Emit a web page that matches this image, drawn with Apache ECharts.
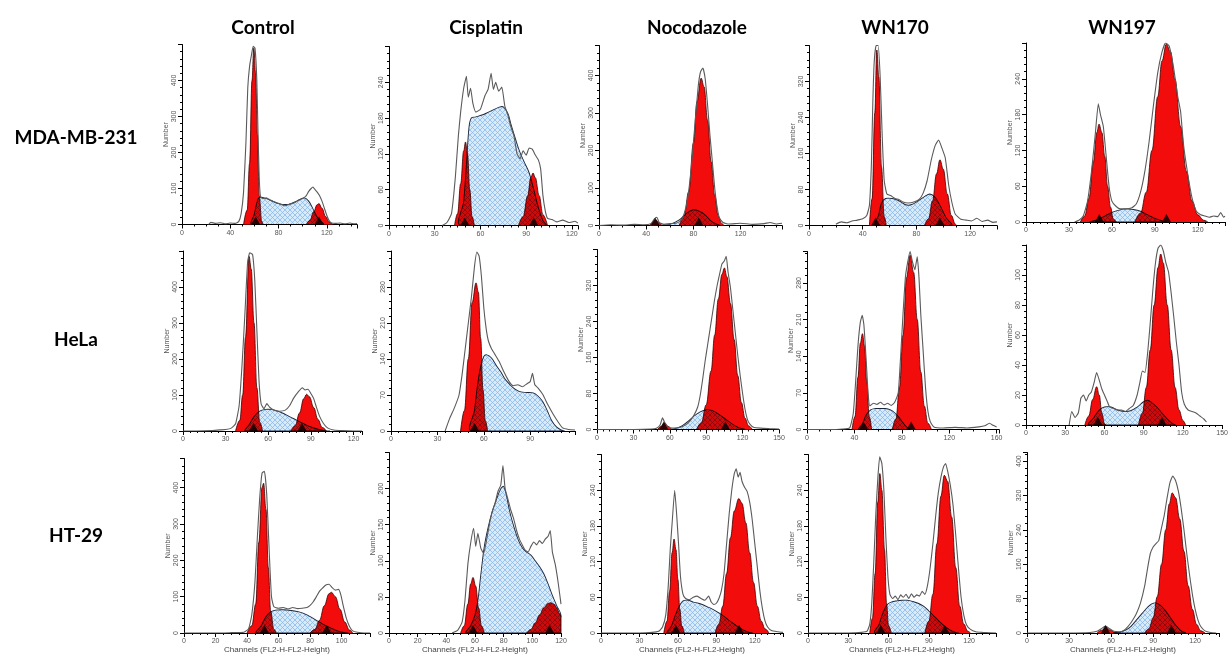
<!DOCTYPE html>
<html>
<head>
<meta charset="utf-8">
<script src="https://cdn.jsdelivr.net/npm/echarts@6/dist/echarts.min.js"></script>
<style>
  html, body { margin: 0; padding: 0; background: #fff; }
  #main { width: 1231px; height: 655px; }
</style>
</head>
<body>
<div id="main"></div>
<script>
// panels read row by row: MDA-MB-231, HeLa, HT-29 x Control, Cisplatin, Nocodazole, WN170, WN197
var columns = ['Control', 'Cisplatin', 'Nocodazole', 'WN170', 'WN197'];
var rows = ['MDA-MB-231', 'HeLa', 'HT-29'];

// axis ranges and tick steps
var xMax = [145, 124, 155, 140, 139, 126, 119, 150, 162, 150, 118, 120, 142, 140, 137];
var yMax = [500, 300, 480, 400, 300, 500, 350, 400, 340, 120, 480, 250, 300, 300, 420];
var xStep = [40, 30, 40, 40, 30, 30, 30, 30, 40, 30, 20, 20, 30, 30, 30];
var yStep = [100, 60, 100, 80, 60, 100, 70, 80, 70, 20, 100, 50, 60, 60, 80];

// G0/G1 peak (red)
var g1Peak = [
  [[51,0],[54,40],[56,170],[58,400],[59.5,490],[61,420],[62.5,250],[64,80],[66,10],[67,0]],
  [[43,0],[45,20],[47,70],[49,125],[50.2,140],[51.5,120],[53,60],[54.5,15],[56,0]],
  [[43,0],[45.5,8],[48,15],[50.5,8],[53,0]],
  [[45,0],[47,60],[49,250],[50.5,390],[52,330],[54,130],[56,20],[57.5,0]],
  [[38,0],[41,10],[44,40],[47,100],[49.5,150],[51,164],[53,150],[55,110],[57,60],[59,25],[61,5],[63,0]],
  [[37,0],[40,30],[42,100],[44,260],[46.5,485],[48,450],[50,300],[52,120],[54,25],[56,0]],
  [[45,0],[47.5,40],[50,140],[52.5,250],[55,288],[56.5,270],[58,180],[59.5,80],[61,20],[62.5,0]],
  [[50,0],[53,7],[55.8,15],[58.5,7],[61.5,0]],
  [[38,0],[40.5,25],[43,100],[45,165],[46.8,183],[48.5,160],[50.5,90],[52.5,25],[54.5,0]],
  [[45,0],[48,6],[51,17],[54,25.5],[56,20],[58,8],[60,1],[61,0]],
  [[40,0],[43,20],[45.5,80],[47.5,250],[49.5,400],[50.5,412],[52,340],[53.5,180],[55,60],[57,10],[58.5,0]],
  [[50,0],[52.5,10],[55,40],[57,68],[58.6,77],[60.5,65],[62.5,35],[64.5,10],[66.5,0]],
  [[49,0],[51.5,20],[53.5,70],[55.5,135],[57,158],[58.5,140],[60,90],[61.5,40],[63,12],[65,0]],
  [[46,0],[48,25],[50,100],[52,220],[53.5,268],[55,240],[57,140],[58.5,50],[60,12],[62,0]],
  [[50,0],[53,6],[56.4,13],[60,6],[63,1],[64.5,0]]
];

// G2/M peak (red)
var g2Peak = [
  [[103,0],[106,12],[109,35],[112,55],[113.5,58],[116,45],[119,22],[122,6],[125,0]],
  [[85,0],[88,15],[91,50],[93,80],[94.5,88],[96,80],[98.5,50],[101,18],[104,0]],
  [[68,0],[72,25],[76,90],[80,220],[83,330],[86.5,393],[89,370],[92,280],[95,170],[98,80],[101,25],[104,5],[106,0]],
  [[86,0],[89,15],[92,55],[95,115],[97.5,146],[100,125],[103,70],[106,22],[109,3],[110,0]],
  [[76,0],[80,15],[84,50],[88,120],[92,210],[95,270],[98,298],[101,285],[104,240],[108,160],[112,85],[116,35],[120,12],[124,3],[127,0]],
  [[76,0],[79,15],[82,50],[85,90],[87,102],[89,95],[92,65],[95,32],[98,10],[101,0]],
  [],
  [[82,0],[86,15],[90,55],[94,130],[97,210],[100,290],[103,345],[105,359],[107,340],[110,280],[113,200],[116,120],[119,60],[122,25],[125,8],[128,0]],
  [[72,0],[75,20],[78,80],[81,180],[84,290],[87,333],[90,300],[93,210],[96,110],[99,45],[102,12],[105,0]],
  [[86,0],[89,8],[92,25],[95,50],[98,80],[101,105],[103,114],[105,108],[108,80],[111,50],[114,25],[117,10],[120,3],[122,0]],
  [[80,0],[83,10],[86,35],[89,75],[92,108],[93.5,112],[96,100],[99,65],[102,30],[105,8],[107,0]],
  [[96,0],[99,5],[102,14],[105,25],[108,35],[111,41],[113,42],[115,40],[117,35],[119,27],[120,22]],
  [[89,0],[92,15],[95,45],[98,100],[101,160],[104,205],[107.5,226],[110,218],[113,185],[116,135],[119,85],[122,45],[125,20],[128,7],[131,0]],
  [[87,0],[90,20],[93,65],[96,150],[99,230],[101.5,265],[104,255],[107,195],[110,110],[113,45],[116,15],[119,3],[121,0]],
  [[84,0],[87,10],[90,35],[93,85],[96,160],[99,240],[101.5,300],[103.6,326],[106,315],[109,265],[112,190],[115,110],[118,55],[121,20],[124,5],[127,0]]
];

// S phase (hatched)
var sPhase = [
  [[58,0],[60,30],[62,60],[64,75],[70,72],[80,58],[88,56],[95,65],[101,74],[105,65],[109,40],[113,15],[117,0]],
  [[47,0],[49,40],[51,110],[52.5,165],[54,180],[57,182],[62,186],[67,192],[72,198],[75,199],[78,188],[80,170],[83,145],[86,122],[89,105],[92,88],[95,60],[98,30],[101,8],[103,0]],
  [[50,0],[60,3],[68,15],[74,32],[80,42],[85,38],[90,28],[95,12],[100,3],[103,0]],
  [[50,0],[52,25],[54,50],[57,60],[62,60],[67,55],[72,46],[76,46],[81,54],[86,64],[90,70],[94,62],[98,42],[102,18],[106,0]],
  [[45,0],[50,4],[55,10],[60,16],[65,20],[70,22],[75,21],[80,18],[85,12],[90,6],[95,2],[98,0]],
  [[44,0],[47,20],[50,40],[54,55],[58,60],[62,60],[66,56],[70,50],[74,42],[78,34],[82,26],[86,18],[90,11],[95,5],[100,1],[103,0]],
  [[52,0],[54,40],[56,90],[58,125],[60,145],[62,148],[65,142],[68,128],[71,115],[74,100],[77,90],[80,82],[84,76],[88,75],[92,74],[95,68],[98,58],[101,40],[104,20],[107,8],[110,2],[112,0]],
  [[62,0],[66,3],[70,8],[75,18],[80,30],[85,39],[90,44],[94,43],[98,38],[102,31],[106,23],[110,15],[114,8],[118,3],[122,0]],
  [[44,0],[47,12],[50,28],[54,38],[58,40],[62,40],[66,40],[70,38],[74,32],[78,22],[82,10],[85,3],[87,0]],
  [[48,0],[52,5],[56,10],[60,12],[65,12],[70,10],[75,9],[80,9.5],[85,12],[90,15.5],[93,16.5],[96,15],[100,12],[104,8],[108,4],[112,1],[114,0]],
  [[46,0],[49,20],[52,45],[55,58],[58,63],[63,64],[68,62],[73,58],[78,50],[82,40],[86,30],[90,20],[94,12],[98,5],[102,1],[104,0]],
  [[54,0],[57,10],[60,25],[62,45],[64,80],[66.5,120],[69,145],[72,168],[75,185],[78,200],[80,203],[82,190],[84,170],[87,148],[90,130],[93,118],[96,112],[99,108],[102,100],[105,92],[108,82],[111,68],[114,52],[117,38],[120,25],[120,0]],
  [[52,0],[55,12],[58,30],[61,45],[64,54],[68,55],[72,52],[76,50],[80,47],[84,43],[88,39],[92,34],[96,28],[100,21],[104,15],[108,9],[112,4],[116,1],[118,0]],
  [[50,0],[53,15],[56,35],[59,48],[62,52],[66,54],[70,55],[74,55],[78,53],[82,50],[86,45],[90,37],[94,28],[98,19],[102,11],[106,5],[110,1],[112,0]],
  [[62,0],[66,2],[70,6],[74,15],[78,30],[82,45],[86,60],[89,68],[92,70],[95,65],[98,55],[101,42],[104,28],[107,15],[110,5],[113,0]]
];

// measured histogram (grey line)
var rawHist = [
  [[22,0],[24,6],[28,3],[32,5],[36,2],[40,4],[44,3],[47,8],[49,30],[51,90],[53,230],[54.5,380],[56,440],[57.5,470],[59,495],[60.5,490],[62,400],[63,250],[64,130],[65,78],[67,72],[70,74],[73,68],[76,64],[79,60],[82,56],[85,52],[88,55],[91,58],[94,62],[97,68],[100,72],[103,80],[105,92],[107,100],[108.5,104],[110,98],[112,90],[114,80],[116,65],[118,45],[120,25],[122,10],[124,4],[127,3],[131,4],[135,2],[139,4],[143,2],[145,3]],
  [[35,0],[38,5],[41,20],[43.5,80],[45.5,150],[47,190],[49,230],[50.8,250],[52,215],[53.5,230],[55,205],[57,190],[60,195],[63,218],[65,228],[67,255],[68.5,228],[70,240],[72,225],[74,232],[76,200],[78,185],[80,165],[82,150],[84,120],[86,112],[88,125],[90,118],[92,130],[94,128],[96,118],[98,110],[99.5,95],[101,50],[102.5,25],[104,12],[107,10],[110,6],[114,9],[118,5],[122,7],[124,4]],
  [[0,0],[10,2],[20,1],[30,3],[38,2],[44,5],[47,18],[49,22],[51,8],[55,3],[60,5],[65,6],[69,12],[72,30],[75,70],[78,150],[81,260],[84,370],[86,410],[88,420],[90,390],[92,320],[94,240],[96,170],[98,100],[100,50],[102,20],[105,8],[110,4],[120,6],[130,3],[140,5],[145,8],[150,4],[155,6]],
  [[20,3],[24,8],[28,6],[32,10],[36,12],[40,15],[43,22],[45,45],[46.5,140],[47.5,270],[48.5,360],[50,400],[51.5,400],[53,330],[54.5,200],[56,100],[58,70],[61,66],[64,60],[67,58],[70,52],[74,50],[78,52],[82,58],[85,72],[88,100],[91,145],[94,178],[96.5,190],[99,172],[101.5,150],[104,90],[106.5,50],[109,25],[113,14],[117,12],[121,10],[125,16],[129,9],[133,12],[137,7],[140,8]],
  [[34,0],[37,3],[40,10],[43,35],[46,90],[48.5,150],[50.5,198],[52,180],[54,160],[56,110],[58,60],[60,35],[63,26],[66,22],[70,22],[74,24],[77,30],[80,50],[83,85],[86,135],[89,195],[92,250],[95,285],[97.5,300],[100,295],[103,260],[106,210],[108,185],[110,130],[113,80],[116,40],[119,18],[122,12],[125,10],[128,8],[131,10],[134,9],[136,16],[138,8],[139,10]],
  [[0,0],[10,0],[20,1],[26,3],[30,4],[34,8],[37,20],[39.5,70],[41.5,180],[43.5,320],[45.5,470],[47,495],[49,490],[50.5,420],[52,280],[53.5,140],[55,75],[57,62],[59,76],[61,66],[64,58],[68,55],[72,58],[75,70],[78,92],[81,108],[84,120],[86,114],[88,116],[90,104],[92,90],[94,65],[96,42],[99,20],[102,8],[106,3],[112,1],[120,0],[126,0]],
  [[35,0],[38,25],[41,45],[44,70],[46,110],[48,160],[50,210],[52,260],[54,320],[55.5,348],[57,340],[58.5,300],[60,240],[61.5,200],[63,175],[65,160],[67,150],[70,135],[73,115],[76,98],[79,88],[82,90],[85,86],[88,92],[90,96],[91.5,112],[93,90],[95,84],[98,72],[100,60],[102,48],[105,32],[108,18],[111,6],[115,3],[119,2]],
  [[0,0],[30,0],[45,1],[49,3],[52,10],[54,26],[56,14],[58,6],[62,3],[66,4],[70,6],[74,12],[77,20],[80,32],[83,50],[85,75],[87,110],[89,150],[91,185],[93,220],[95,255],[97,290],[99,320],[101,345],[103,368],[105,375],[106.5,385],[108,350],[110,315],[112,265],[114,215],[116,165],[118,120],[120,80],[122,45],[124,22],[126,12],[129,5],[135,3],[142,2],[150,1]],
  [[0,0],[20,0],[30,1],[36,3],[39,30],[41,90],[43,160],[45,205],[46.6,218],[48,200],[50,130],[51.5,70],[53,45],[56,50],[59,48],[62,52],[65,47],[68,50],[71,46],[74,52],[77,70],[79,140],[81,220],[83,290],[85,320],[87,340],[89,320],[91,305],[93,330],[94.5,290],[96,220],[98,150],[100,80],[102,35],[104,15],[107,5],[115,3],[125,4],[135,3],[145,5],[150,7],[154,12],[157,8],[160,5]],
  [[33,0],[35,9],[37.5,5],[40,8],[42,18],[44,20],[46,16],[48,20],[50,22],[52,28],[54,35],[56,30],[58,24],[60,20],[62,16],[64,12],[67,11],[70,10],[73,10],[76,9],[79,11],[82,13],[85,20],[87,28],[89,36],[91,35],[93,48],[95,68],[97,90],[99,108],[101,118],[103,120],[105,116],[107,108],[109,102],[111,88],[113,72],[115,55],[117,40],[119,22],[121,14],[124,10],[127,9],[130,8],[133,6],[136,4],[138,2]],
  [[0,0],[20,0],[30,1],[38,2],[41,12],[43,50],[45,140],[46.5,260],[48,370],[49.5,440],[51,445],[52.5,380],[54,230],[55.5,100],[57,72],[60,68],[63,70],[66,66],[69,70],[72,67],[75,68],[78,70],[80,76],[82,86],[84,100],[86,115],[88,124],[90,132],[92,134],[94,125],[96,118],[98,120],[99.5,105],[101,75],[103,40],[105,18],[107,6],[110,2],[114,0],[118,0]],
  [[44,0],[48,4],[51,15],[53,45],[55,95],[57,125],[59,145],[60.5,120],[62,138],[64,118],[66,110],[68,128],[70,150],[72,168],[74,180],[76,196],[78,205],[79.5,232],[81,200],[83,185],[85,170],[87,158],[89,142],[91,130],[93,122],[95,115],[97,112],[99,120],[101,126],[103,122],[105,128],[107,124],[109,130],[111,134],[112.5,142],[114,112],[116,95],[118,70],[120,40]],
  [[0,0],[30,0],[40,1],[45,3],[48,10],[50.5,30],[52.5,80],[54,140],[55.5,185],[57.5,240],[59,200],[60.5,150],[62,95],[64,65],[66,58],[69,56],[72,60],[75,62],[78,58],[81,55],[84,62],[86,52],[88,48],[90,50],[92,58],[94,72],[96,100],[98,150],[100,200],[102,240],[104,268],[105.5,276],[107,262],[108.5,270],[110,255],[112,245],[114,238],[116,220],[118,190],[120,150],[122,110],[124,70],[126,40],[128,20],[130,10],[133,4],[138,2],[142,1]],
  [[0,0],[30,0],[40,1],[44,3],[46,15],[47.5,50],[49,120],[50.5,200],[52,260],[53.4,296],[55,285],[56.5,240],[58,160],[59.5,95],[61,65],[63,58],[65,62],[67,56],[69,64],[71,60],[73,65],[75,58],[77,66],[79,60],[81,64],[83,62],[85,70],[87,65],[89,80],[91,110],[93,150],[95,195],[97,235],[99,262],[101,280],[102.5,285],[104,272],[106,248],[108,215],[110,165],[112,110],[114,60],[116,30],[118,14],[121,6],[125,2],[130,1],[140,0]],
  [[0,0],[30,0],[45,1],[50,4],[53,10],[56,16],[59,10],[62,4],[66,3],[69,6],[72,15],[75,28],[78,45],[81,70],[84,110],[86,150],[88,185],[90,200],[92,208],[94,215],[96,245],[98,275],[100,315],[102,350],[104,365],[106,355],[108,330],[110,290],[112,240],[114,185],[116,135],[118,90],[120,55],[122,30],[124,15],[127,5],[131,1],[135,0]]
];

// peak position markers (triangles)
var markers = [[61,113.5],[49.7,95],[47.6,84.5],[49.6,97.5],[51.2,98.1],
               [49.6,83.8],[54],[55,105.8],[47.7,87.9],[54.9,104],
               [51,90.5],[58.6,112],[58.4,107.8],[54.2,101.9],[56,103]];

// ---- layout (pixels) ----
var gridLeft = [182, 389, 599, 809, 1026, 183, 391, 597, 807, 1026, 184, 389, 601, 808, 1027];
var gridBottom = [224.5, 225.5, 225.5, 225.5, 222, 431, 431, 429.5, 429.5, 425, 634.5, 634.5, 633.5, 634.5, 633.5];
var gridW = [175, 189, 183, 188, 199, 179, 184, 182, 192, 204, 186, 172, 182, 188, 192];
var gridH = [180, 179, 180, 180, 179, 180, 180, 180, 178, 180, 176, 182, 179, 180, 181];
var colX = [263, 486, 697, 895, 1122];
var rowY = [138, 340, 536];

// cross-hatch tile for the S phase; drawn with multiply so it darkens the red it covers
var hatch = document.createElement('canvas');
hatch.width = 5; hatch.height = 5;
var hc = hatch.getContext('2d');
hc.fillStyle = 'rgb(216,235,251)';
hc.fillRect(0, 0, 5, 5);
hc.strokeStyle = 'rgb(135,182,235)';
hc.lineWidth = 0.75;
hc.beginPath();
hc.moveTo(0, 0); hc.lineTo(5, 5);
hc.moveTo(5, 0); hc.lineTo(0, 5);
hc.stroke();

var chart = echarts.init(document.getElementById('main'));

var grids = [], xAxes = [], yAxes = [], series = [], graphics = [];
var labelFont = 'Liberation Sans';

function sRenderer(k) {
  return function (params, api) {
    var poly = sPhase[k].map(function (p) { return api.coord(p); });
    var a = api.coord([0, 0]), b = api.coord([xMax[k], yMax[k]]);
    return {
      type: 'polygon',
      shape: {
        points: poly, smooth: 0.35,
        smoothConstraint: [[Math.min(a[0], b[0]), Math.min(a[1], b[1])],
                           [Math.max(a[0], b[0]), Math.max(a[1], b[1])]]
      },
      style: {
        fill: { image: hatch, repeat: 'repeat' },
        stroke: '#1d2638', lineWidth: 0.9
      }
    };
  };
}

for (var i = 0; i < 15; i++) {
  var bottomRow = i >= 10;
  grids.push({
    left: gridLeft[i],
    top: gridBottom[i] - gridH[i],
    width: gridW[i],
    height: gridH[i]
  });
  xAxes.push({
    type: 'value', gridIndex: i, min: 0, max: xMax[i], interval: xStep[i],
    name: bottomRow ? 'Channels (FL2-H-FL2-Height)' : '',
    nameLocation: 'middle', nameGap: 13,
    nameTextStyle: { fontSize: 8, color: '#444', fontFamily: labelFont },
    axisLine: { lineStyle: { color: '#000', width: 1 } },
    axisTick: { length: 4, lineStyle: { color: '#000' } },
    minorTick: { show: true, splitNumber: xStep[i] % 30 === 0 ? 6 : 4, length: 2, lineStyle: { color: '#000' } },
    splitLine: { show: false },
    axisLabel: { fontSize: 7, color: '#555', margin: 5, fontFamily: labelFont,
                 showMaxLabel: xMax[i] % xStep[i] === 0 }
  });
  yAxes.push({
    type: 'value', gridIndex: i, min: 0, max: yMax[i], interval: yStep[i],
    name: 'Number', nameLocation: 'middle', nameGap: 12,
    nameTextStyle: { fontSize: 7, color: '#555', fontFamily: labelFont },
    axisLine: { show: true, lineStyle: { color: '#000', width: 1 } },
    axisTick: { show: true, length: 4, lineStyle: { color: '#000' } },
    minorTick: { show: true, splitNumber: 5, length: 2, lineStyle: { color: '#000' } },
    splitLine: { show: false },
    axisLabel: { fontSize: 7, color: '#555', rotate: 90, margin: 4, fontFamily: labelFont,
                 showMaxLabel: false }
  });

  [g1Peak[i], g2Peak[i]].forEach(function (pk) {
    if (!pk.length) return;
    series.push({
      type: 'line', xAxisIndex: i, yAxisIndex: i, data: pk,
      smooth: 0.4, smoothMonotone: 'x', symbol: 'none', silent: true,
      lineStyle: { color: '#3a0000', width: 0.8 },
      areaStyle: { color: '#f20c0c', opacity: 1 },
      z: 2
    });
  });
  series.push({
    type: 'custom', coordinateSystem: 'cartesian2d',
    xAxisIndex: i, yAxisIndex: i,
    data: [sPhase[i][0]],
    renderItem: sRenderer(i),
    silent: true, z: 3
  });
  series.push({
    type: 'line', xAxisIndex: i, yAxisIndex: i, data: rawHist[i],
    smooth: 0.15, symbol: 'none', silent: true,
    lineStyle: { color: '#5a5a5a', width: 1.1 },
    z: 4
  });
  series.push({
    type: 'scatter', xAxisIndex: i, yAxisIndex: i,
    data: markers[i].map(function (m) { return [m, 0]; }),
    symbol: 'triangle', symbolSize: [9, 8], symbolOffset: [0, -4],
    itemStyle: { color: '#000' }, silent: true, clip: false, z: 5
  });
}

columns.forEach(function (c, k) {
  graphics.push({
    type: 'text', x: colX[k], y: 28,
    style: { text: c, font: 'bold 19px Lato', fill: '#000', textAlign: 'center', textVerticalAlign: 'middle' }
  });
});
rows.forEach(function (r, k) {
  graphics.push({
    type: 'text', x: 76, y: rowY[k],
    style: { text: r, font: 'bold 19px Lato', fill: '#000', textAlign: 'center', textVerticalAlign: 'middle' }
  });
});

chart.setOption({
  backgroundColor: '#fff',
  animation: false,
  grid: grids,
  xAxis: xAxes,
  yAxis: yAxes,
  series: series,
  graphic: graphics
});

// multiply the hatched S phase over the red peaks so the overlap turns dark red
var zr = chart.getZr();
zr.storage.getDisplayList(true).forEach(function (el) {
  var f = el.style && el.style.fill;
  if (f && f.image === hatch) {
    el.style.blend = 'multiply';
    el.markRedraw();
  }
});
zr.refreshImmediately();

window.addEventListener('resize', function () { chart.resize(); });
</script>
</body>
</html>
